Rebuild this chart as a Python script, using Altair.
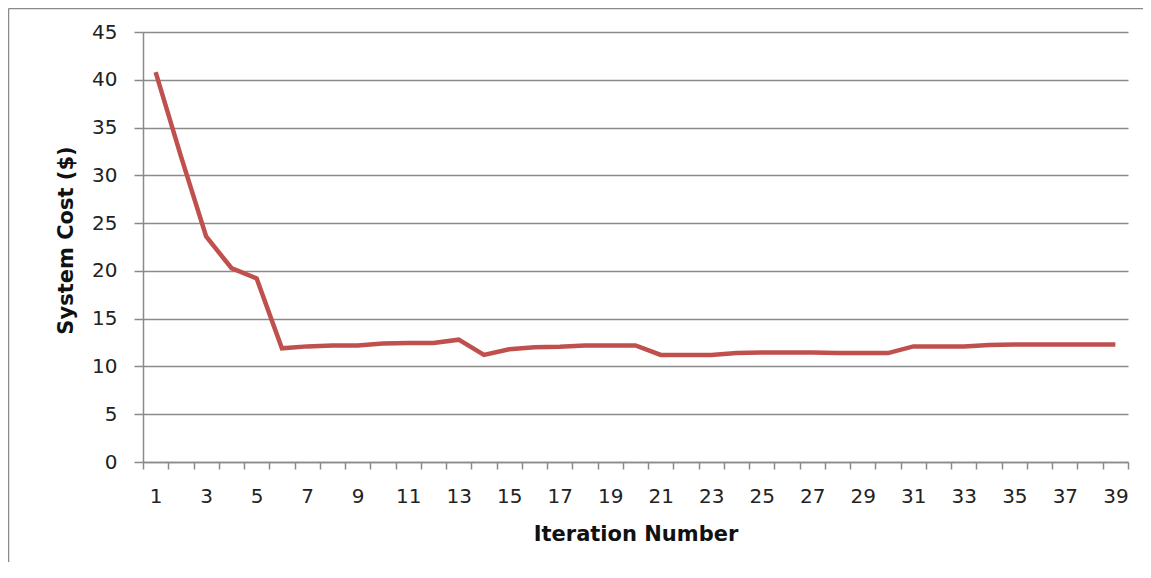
import altair as alt
import pandas as pd

iterations = list(range(1, 40))
system_cost = [40.8, 32.0, 23.6, 20.3, 19.2, 11.9, 12.1, 12.2, 12.2, 12.4,
               12.45, 12.45, 12.8, 11.2, 11.8, 12.0, 12.05, 12.2, 12.2, 12.2,
               11.2, 11.2, 11.2, 11.4, 11.45, 11.45, 11.45, 11.4, 11.4, 11.4,
               12.1, 12.1, 12.1, 12.25, 12.3, 12.3, 12.3, 12.3, 12.3]
y_ticks = [0, 5, 10, 15, 20, 25, 30, 35, 40, 45]
x_tick_positions = [i + 0.5 for i in range(0, 40)]

df = pd.DataFrame({"Iteration": iterations, "Cost": system_cost})

W, H = 985, 430
GRID = "#8a8a8a"
FONT = "DejaVu Sans"

line = alt.Chart(df).mark_line(color="#C0504D", strokeWidth=4.5, strokeJoin="miter").encode(
    x=alt.X("Iteration:Q",
            scale=alt.Scale(domain=[0.5, 39.5], nice=False, zero=False),
            axis=alt.Axis(values=x_tick_positions, grid=False, tickSize=7, tickColor=GRID,
                          tickWidth=1.5, domainColor=GRID, domainWidth=1.5,
                          labelOffset=W / 39 / 2,
                          labelExpr="((datum.value + 0.5) % 2 == 1 && datum.value < 39) ? format(datum.value + 0.5, 'd') : ''",
                          labelFont=FONT, labelFontSize=20, labelColor="#222222",
                          labelPadding=17, labelOverlap=False, labelFlush=False,
                          title="Iteration Number", titleFont=FONT, titleFontSize=21,
                          titleFontWeight="bold", titleColor="#111111",
                          titleX=W / 2, titleY=72, titleBaseline="middle", titleAlign="center")),
    y=alt.Y("Cost:Q",
            scale=alt.Scale(domain=[0, 45], nice=False),
            axis=alt.Axis(values=y_ticks, grid=True, gridColor=GRID, gridWidth=1.5,
                          tickSize=9, tickColor=GRID, tickWidth=1.5,
                          domainColor=GRID, domainWidth=1.5,
                          labelFont=FONT, labelFontSize=20, labelColor="#222222",
                          labelPadding=17,
                          title="System Cost ($)", titleFont=FONT, titleFontSize=21,
                          titleFontWeight="bold", titleColor="#111111",
                          titleX=-77, titleY=208, titleAngle=270,
                          titleBaseline="middle", titleAlign="center")),
)

frame_data = alt.Data(values=[{"a": 1}])
top_edge = alt.Chart(frame_data).mark_rule(stroke=GRID, strokeWidth=1.5).encode(
    x=alt.value(-134.5), x2=alt.value(1020), y=alt.value(-23.5),
)
left_edge = alt.Chart(frame_data).mark_rule(stroke=GRID, strokeWidth=1.5).encode(
    x=alt.value(-134.5), y=alt.value(-23.5), y2=alt.value(600),
)

chart = alt.layer(top_edge, left_edge, line).properties(
    width=W, height=H,
    padding={"left": 135, "top": 24, "right": 15, "bottom": 100},
    autosize=alt.AutoSizeParams(type="none"),
    background="white",
).configure_view(stroke=None)

chart.save("out.html", embed_options={"renderer": "svg", "actions": False})
